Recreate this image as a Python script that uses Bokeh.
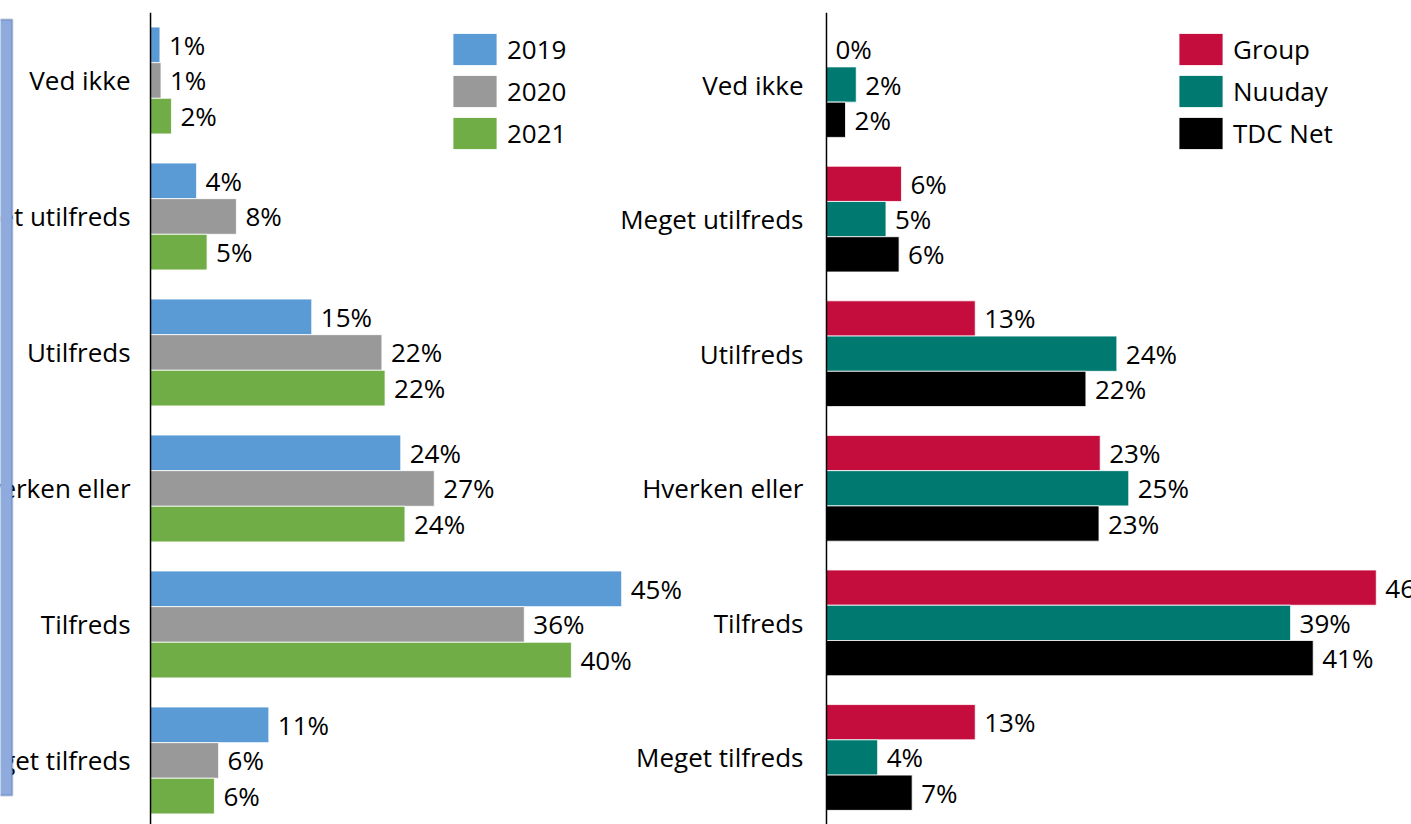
from bokeh.plotting import figure
from bokeh.models import Range1d, ColumnDataSource, Legend, LegendItem, Span, BoxAnnotation
from bokeh.core.properties import value
from bokeh.embed import file_html
from bokeh.resources import INLINE

# ---------------- data ----------------
categories = ["Ved ikke", "Meget utilfreds", "Utilfreds", "Hverken eller", "Tilfreds", "Meget tilfreds"]

years = ["2019", "2020", "2021"]
v2019 = [0.9, 4.4, 15.4, 23.9, 45.0, 11.3]
v2020 = [1.0, 8.2, 22.1, 27.1, 35.7, 6.5]
v2021 = [2.0, 5.4, 22.4, 24.3, 40.2, 6.1]
lab2019 = ["1%", "4%", "15%", "24%", "45%", "11%"]
lab2020 = ["1%", "8%", "22%", "27%", "36%", "6%"]
lab2021 = ["2%", "5%", "22%", "24%", "40%", "6%"]

units = ["Group", "Nuuday", "TDC Net"]
vgroup = [0.0, 6.3, 12.5, 23.0, 46.2, 12.5]
vnuuday = [2.5, 5.0, 24.4, 25.4, 39.0, 4.3]
vtdc = [1.6, 6.1, 21.8, 22.9, 40.9, 7.2]
labgroup = ["0%", "6%", "13%", "23%", "46%", "13%"]
labnuuday = ["2%", "5%", "24%", "25%", "39%", "4%"]
labtdc = ["2%", "6%", "22%", "23%", "41%", "7%"]

left_colors = ["#5B9BD5", "#999999", "#70AD47"]
right_colors = ["#C40D3C", "#007A70", "#000000"]

FONT_NAME = "Open Sans"
FONT = value(FONT_NAME)
FS = "26px"

p = figure(width=1411, height=824, output_backend="svg", toolbar_location=None,
           x_axis_location=None, y_axis_location=None,
           x_range=Range1d(-14.33, 120.44), y_range=Range1d(5.471, -0.5),
           min_border_left=0, min_border_right=0, min_border_top=12, min_border_bottom=0)
p.outline_line_color = None
p.xgrid.visible = False
p.ygrid.visible = False
p.extra_x_ranges = {"r": Range1d(-69.41, 49.16)}
p.extra_y_ranges = {"r": Range1d(5.498, -0.535)}

# decorative box at far left
p.add_layout(BoxAnnotation(left=-30, right=-13.2, top=-0.449, bottom=5.257,
                           fill_color="#8FAADC", fill_alpha=1.0,
                           line_color="#2F528F", line_width=2))

bar_h = 0.262
offsets = [-bar_h, 0.0, bar_h]
idx = list(range(len(categories)))


def panel(series, labels, names, colors, xr, yr, lab_off, legend_loc):
    kw = {}
    if xr:
        kw = dict(x_range_name=xr, y_range_name=yr)
    items = []
    for vals, labs, name, col, off in zip(series, labels, names, colors, offsets):
        src = ColumnDataSource(dict(y=[i + off for i in idx], v=vals, lab=labs))
        r = p.hbar(y="y", left=0, right="v", height=bar_h, source=src,
                   fill_color=col, line_color="white", line_width=0.8, **kw)
        p.text(x="v", y="y", text="lab", source=src, x_offset=9,
               text_align="left", text_baseline="middle",
               text_font=FONT, text_font_size=FS, text_color="#000000", **kw)
        items.append(LegendItem(label=name, renderers=[r]))
    csrc = ColumnDataSource(dict(x=[0] * len(categories), y=idx, t=categories))
    p.text(x="x", y="y", text="t", source=csrc, x_offset=lab_off,
           text_align="right", text_baseline="middle",
           text_font=FONT, text_font_size=FS, text_color="#000000", **kw)
    p.add_layout(Span(location=0, dimension="height", line_color="#000000",
                      line_width=1.5, **({"x_range_name": xr} if xr else {})))
    leg = Legend(items=items, location=legend_loc, orientation="vertical",
                 glyph_width=55, glyph_height=40, label_height=40,
                 label_standoff=5, spacing=2, padding=0, margin=0,
                 border_line_alpha=0, background_fill_alpha=0,
                 label_text_font=FONT_NAME, label_text_font_size=FS,
                 label_text_color="#000000")
    p.add_layout(leg)


panel([v2019, v2020, v2021], [lab2019, lab2020, lab2021], years, left_colors,
      None, None, -20, (447, 671))
panel([vgroup, vnuuday, vtdc], [labgroup, labnuuday, labtdc], units, right_colors,
      "r", "r", -23, (1173, 671))

open("out.html", "w").write(file_html(p, INLINE))
